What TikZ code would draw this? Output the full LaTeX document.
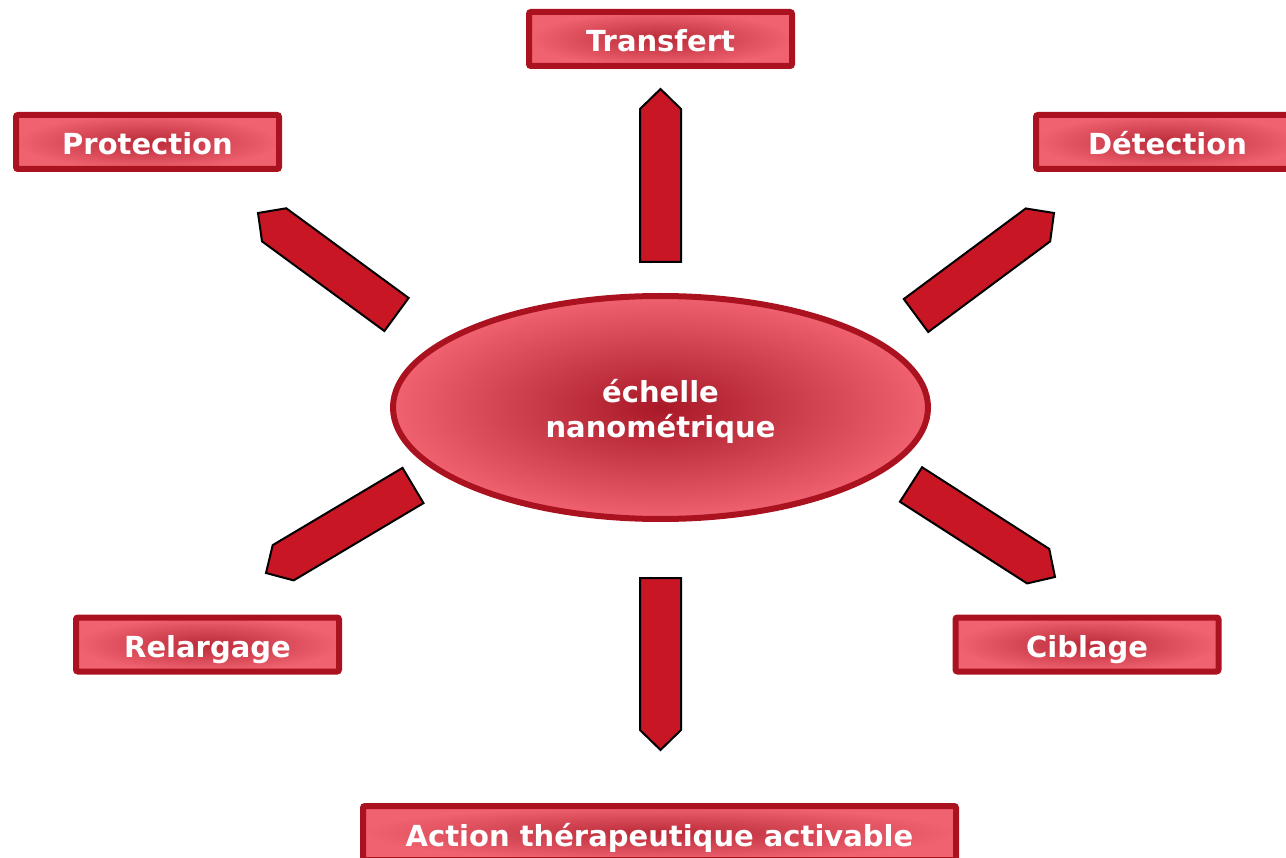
\documentclass[tikz,border=0pt]{standalone}
\usepackage{fontspec}
\setmainfont{DejaVu Sans}
\usetikzlibrary{shapes.geometric,calc}
\definecolor{edgered}{RGB}{170,18,32}
\definecolor{lightred}{RGB}{240,98,112}
\definecolor{darkred}{RGB}{168,24,38}
\definecolor{arrowred}{RGB}{200,22,36}
\tikzset{
  labelbox/.style={draw=edgered, line width=6pt, rounded corners=2pt, shading=radial,
    inner color=darkred!75!lightred, outer color=lightred, text=white,
    minimum width=263pt, minimum height=54pt, text height=30pt, text depth=4pt,
    font=\bfseries\fontsize{29}{35}\selectfont},
  blockarrow/.style={draw=black, line width=2pt, fill=arrowred, line join=miter},
}
\begin{document}
\begin{tikzpicture}[x=1pt, y=-1pt]
  \path[use as bounding box, clip] (0,0) rectangle (1286,858);
  % centre
  \node[ellipse, draw=edgered, line width=6pt, shading=radial, inner color=darkred,
    outer color=lightred, minimum width=535pt, minimum height=223pt, text=white,
    align=center, text height=66pt, font=\bfseries\fontsize{29}{35}\selectfont]
    (nano) at (660.5,407.5) {échelle\\nanométrique};
  % boxes
  \node[labelbox] (transfert) at (660.5,39) {Transfert};
  \node[labelbox] (protection) at (147.5,142) {Protection};
  \node[labelbox] (detection) at (1167.5,142) {Détection};
  \node[labelbox] (relargage) at (207.5,644.5) {Relargage};
  \node[labelbox] (ciblage) at (1087,644.5) {Ciblage};
  \node[labelbox, minimum width=593pt] (action) at (659.5,833) {Action thérapeutique activable};
  % arrows: base and tip
  \coordinate (upB) at (660.5,262);  \coordinate (upT) at (660.5,89);
  \coordinate (dnB) at (660.5,578);  \coordinate (dnT) at (660.5,750);
  \coordinate (ulB) at (396.5,314.5); \coordinate (ulT) at (258,213);
  \coordinate (urB) at (916,315.5);  \coordinate (urT) at (1054,213);
  \coordinate (llB) at (413,485.5);  \coordinate (llT) at (266,573);
  \coordinate (lrB) at (911,484.5);  \coordinate (lrT) at (1055,577);
  \foreach \a in {up,dn,ul,ur,ll,lr} {
    \coordinate (s) at ($(\a T)!20pt!(\a B)$);
    \draw[blockarrow] ($(\a B)!20.5pt!90:(\a T)$) -- ($(s)!20.5pt!90:(\a T)$) -- (\a T)
      -- ($(s)!20.5pt!-90:(\a T)$) -- ($(\a B)!20.5pt!-90:(\a T)$) -- cycle;
  }
\end{tikzpicture}
\end{document}
